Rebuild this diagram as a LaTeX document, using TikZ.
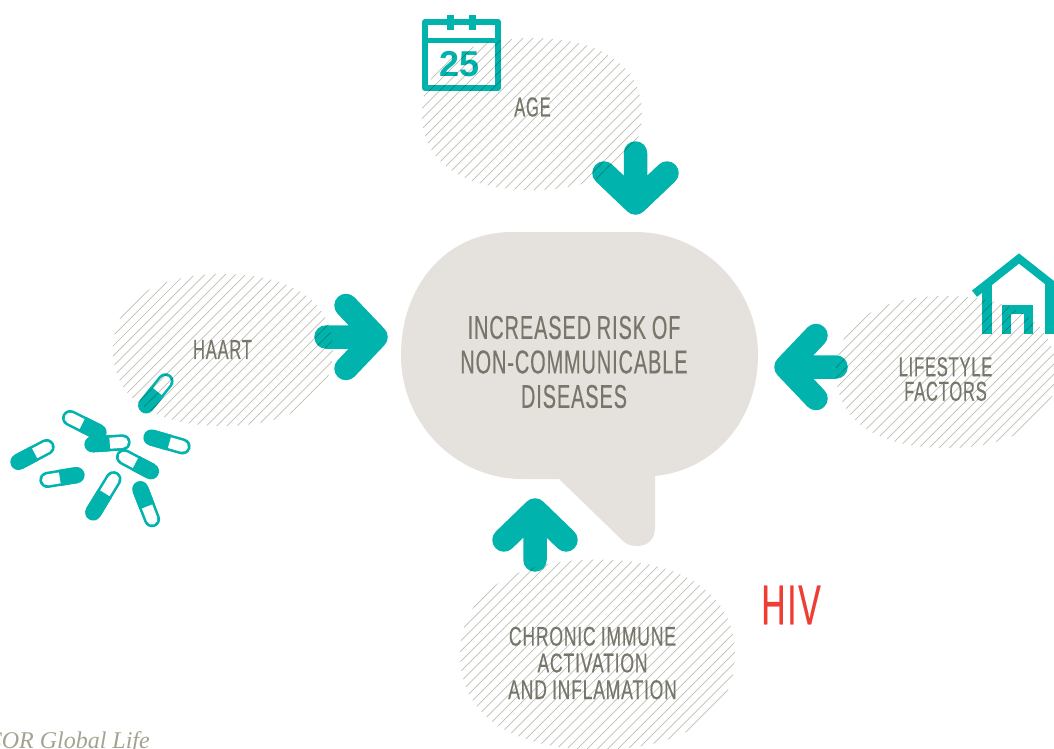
\documentclass[tikz,border=0pt]{standalone}
\usepackage{fontspec}
\usetikzlibrary{calc}
\newfontfamily\cond[FakeStretch=0.6,FakeBold=0.35,LetterSpace=3,WordSpace=0.9]{Liberation Sans}
\newfontfamily\condw[FakeStretch=0.65,FakeBold=0.35,LetterSpace=3,WordSpace=0.9]{Liberation Sans}
\newfontfamily\hel{Liberation Sans}
\newfontfamily\ser{Liberation Serif}
\definecolor{tealc}{HTML}{00B3AD}
\definecolor{bubble}{HTML}{E5E2DD}
\definecolor{hatchc}{HTML}{BFBDB3}
\definecolor{labelc}{HTML}{77766B}
\definecolor{hivred}{HTML}{EE3D33}
\definecolor{srcc}{HTML}{A3A38F}
\tikzset{
  arrowstroke/.style={draw=tealc,line width=23.5pt,line cap=round,line join=round},
  iconline/.style={draw=tealc,line width=6pt},
  smalllabel/.style={text=labelc,align=center,font=\cond\fontsize{27.5}{24.5}\selectfont},
}
% filled-end x,y ; open-end x,y
\newcommand{\capsule}[4]{%
  \coordinate (pa) at ($(#1,#2)!0.025!(#3,#4)$);
  \coordinate (pb) at ($(#1,#2)!0.975!(#3,#4)$);
  \coordinate (pm) at ($(#1,#2)!0.57!(#3,#4)$);
  \draw[tealc,line width=16.2pt,line cap=round] (pa) -- (pb);
  \draw[white,line width=11pt,line cap=round] (pm) -- (pb);
  \draw[tealc,line width=16.2pt] (pa) -- (pm);
}
% cx cy rx ry
\newcommand{\blobpath}[4]{%
  (#1-#3,#2) .. controls (#1-#3,#2-0.63*#4) and (#1-0.63*#3,#2-#4) .. (#1,#2-#4)
  .. controls (#1+0.63*#3,#2-#4) and (#1+#3,#2-0.63*#4) .. (#1+#3,#2)
  .. controls (#1+#3,#2+0.63*#4) and (#1+0.63*#3,#2+#4) .. (#1,#2+#4)
  .. controls (#1-0.63*#3,#2+#4) and (#1-#3,#2+0.63*#4) .. (#1-#3,#2) -- cycle}
\newcommand{\hatchblob}[4]{%
  \begin{scope}[blend mode=multiply]
    \clip \blobpath{#1}{#2}{#3}{#4};
    \foreach \c in {0,10.2,...,1900} {\draw[hatchc,line width=0.7pt] (\c,0) -- (\c-800,800);}
  \end{scope}
}
\begin{document}
\begin{tikzpicture}[x=1pt,y=-1pt]
\useasboundingbox (0,0) rectangle (1054,749);
\clip (0,0) rectangle (1054,749);
% main bubble
\fill[bubble] (401,355) .. controls (401,287) and (445,232) .. (512,232)
  -- (635,232) .. controls (703,232) and (758,287) .. (758,355)
  .. controls (758,420) and (715,470) .. (655,476)
  -- (655,528) .. controls (655,540) and (647,546) .. (637,546)
  .. controls (630,546) and (626,544) .. (622,540)
  -- (559,479) -- (522,479) .. controls (456,479) and (401,424) .. (401,355) -- cycle;
% arrows
\draw[arrowstroke] (604,173) -- (635.5,203) -- (667,173) (635.5,153) -- (635.5,203);
\draw[arrowstroke] (346,305.5) -- (376,337) -- (346,368.5) (326,337) -- (376,337);
\draw[arrowstroke] (816,335.5) -- (786,367) -- (816,398.5) (836,367) -- (786,367);
\draw[arrowstroke] (504,540) -- (535,510) -- (566,540) (535,560) -- (535,510);
% calendar
\draw[iconline,line join=round] (425,22) rectangle (498,88);
\draw[tealc,line width=5pt] (425,41) -- (498,41);
\draw[tealc,line width=6.5pt] (450.5,15) -- (450.5,30) (472.5,15) -- (472.5,30);
\node[text=tealc,font=\hel\bfseries\fontsize{36}{36}\selectfont] (cal) at (459.5,64) {25};
% house
\draw[tealc,line width=8pt] (974.5,293.7) -- (1019,258.5) -- (1064,294);
\draw[tealc,line width=9.5pt] (987,284) -- (987,334) (1049.5,284) -- (1049.5,334);
\draw[tealc,line width=9pt] (1006.5,334) -- (1006.5,309.5) -- (1028.5,309.5) -- (1028.5,334);
% pills
\begin{scope}[x=0.33333pt,y=-0.33333pt,shift={(0pt,-360pt)}]
  \capsule{437}{138}{498}{62}
  \capsule{298}{218}{208}{173}
  \capsule{275}{253}{370}{247}
  \capsule{452}{232}{550}{260}
  \capsule{455}{335}{370}{290}
  \capsule{53}{307}{142}{260}
  \capsule{232}{345}{140}{360}
  \capsule{278}{460}{342}{355}
  \capsule{420}{385}{457}{480}
\end{scope}
% hatched blobs
\hatchblob{532}{114}{110}{76}
\hatchblob{223}{350}{110}{76}
\hatchblob{946}{372}{110}{76}
\hatchblob{597.5}{654.5}{137.5}{95}
% labels
\node[text=labelc,align=center,font=\cond\fontsize{33}{34.5}\selectfont] (main) at (574,362)
  {INCREASED RISK OF\\NON-COMMUNICABLE\\DISEASES};
\node[smalllabel] (age) at (532.5,107) {AGE};
\node[smalllabel] (haart) at (222.5,349.5) {HAART};
\node[smalllabel] (life) at (945.5,379) {LIFESTYLE\\FACTORS};
\node[text=labelc,align=center,font=\condw\fontsize{27}{26.7}\selectfont] (chronic) at (592.5,663)
  {CHRONIC IMMUNE\\ACTIVATION\\AND INFLAMATION};
\node[text=hivred,font=\cond\fontsize{56}{56}\selectfont] (hiv) at (791,605) {HIV};
\node[text=srcc,anchor=base east,inner sep=0pt,font=\ser\itshape\fontsize{24}{24}\selectfont] (src) at (150,748) {COR Global Life};
\end{tikzpicture}
\end{document}
